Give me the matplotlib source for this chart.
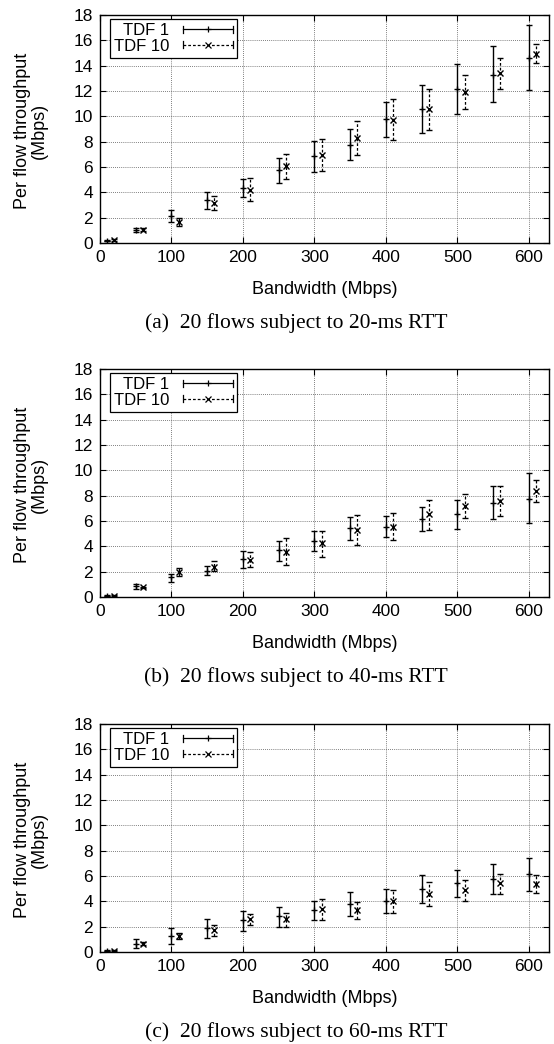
import matplotlib
matplotlib.use('Agg')
import matplotlib.pyplot as plt
from matplotlib.legend_handler import HandlerBase
from matplotlib.lines import Line2D
import numpy as np

plt.rcParams['font.family'] = ['Liberation Sans', 'DejaVu Sans']

# Bandwidth (Mbps) for each series; TDF 10 is shifted right by 10 so bars don't overlap
bw_tdf1 = [10, 50, 100, 150, 200, 250, 300, 350, 400, 450, 500, 550, 600]
bw_tdf10 = [20, 60, 110, 160, 210, 260, 310, 360, 410, 460, 510, 560, 610]

# (a) 20-ms RTT
a_tdf1_mean = [0.2, 1.05, 2.1, 3.4, 4.33, 5.73, 6.88, 7.75, 9.8, 10.59, 12.16, 13.3, 14.63]
a_tdf1_low = [0.15, 0.9, 1.68, 2.7, 3.6, 4.76, 5.6, 6.52, 8.41, 8.7, 10.22, 11.11, 12.09]
a_tdf1_high = [0.25, 1.2, 2.57, 4.0, 5.07, 6.73, 8.09, 8.99, 11.17, 12.45, 14.1, 15.53, 17.18]
a_tdf10_mean = [0.25, 1.05, 1.7, 3.2, 4.2, 6.1, 6.96, 8.33, 9.72, 10.56, 11.9, 13.4, 14.92]
a_tdf10_low = [0.2, 0.95, 1.37, 2.57, 3.28, 5.07, 5.65, 6.96, 8.14, 8.93, 10.56, 12.14, 14.19]
a_tdf10_high = [0.3, 1.15, 1.97, 3.73, 5.12, 7.04, 8.2, 9.64, 11.35, 12.14, 13.24, 14.58, 15.69]

# (b) 40-ms RTT
b_tdf1_mean = [0.1, 0.84, 1.55, 2.07, 2.99, 3.67, 4.38, 5.41, 5.56, 6.14, 6.54, 7.45, 7.77]
b_tdf1_low = [0.05, 0.63, 1.15, 1.73, 2.26, 2.86, 3.65, 4.49, 4.75, 5.22, 5.33, 6.12, 5.8]
b_tdf1_high = [0.15, 1.0, 1.81, 2.41, 3.65, 4.38, 5.17, 6.3, 6.38, 7.09, 7.69, 8.74, 9.79]
b_tdf10_mean = [0.1, 0.75, 1.94, 2.34, 2.91, 3.52, 4.23, 5.3, 5.56, 6.51, 7.19, 7.61, 8.37]
b_tdf10_low = [0.05, 0.7, 1.63, 2.07, 2.34, 2.52, 3.18, 4.12, 4.46, 5.28, 6.22, 6.43, 7.48]
b_tdf10_high = [0.15, 0.8, 2.26, 2.86, 3.52, 4.62, 5.22, 6.48, 6.59, 7.66, 8.14, 8.77, 9.27]

# (c) 60-ms RTT
c_tdf1_mean = [0.1, 0.66, 1.26, 1.92, 2.5, 2.82, 3.29, 3.82, 4.0, 4.95, 5.45, 5.79, 6.13]
c_tdf1_low = [0.05, 0.32, 0.6, 1.1, 1.68, 2.0, 2.53, 2.87, 3.05, 3.9, 4.37, 4.55, 4.82]
c_tdf1_high = [0.15, 1.05, 1.92, 2.63, 3.26, 3.55, 4.05, 4.76, 4.95, 6.1, 6.47, 6.92, 7.42]
c_tdf10_mean = [0.1, 0.66, 1.26, 1.74, 2.58, 2.58, 3.37, 3.29, 4.03, 4.6, 4.87, 5.42, 5.39]
c_tdf10_low = [0.05, 0.55, 1.0, 1.26, 2.1, 1.95, 2.55, 2.58, 3.1, 3.63, 4.03, 4.55, 4.68]
c_tdf10_high = [0.15, 0.8, 1.53, 2.1, 3.0, 3.05, 4.16, 3.95, 4.89, 5.53, 5.68, 6.16, 6.08]

captions = ['(a)  20 flows subject to 20-ms RTT',
            '(b)  20 flows subject to 40-ms RTT',
            '(c)  20 flows subject to 60-ms RTT']
series_labels = ['TDF 1', 'TDF 10']
x_ticks = [0, 100, 200, 300, 400, 500, 600]
y_ticks = [0, 2, 4, 6, 8, 10, 12, 14, 16, 18]

DASH = (0, (2.2, 1.6))


class ErrorbarKeyHandler(HandlerBase):
    # gnuplot-like key sample: horizontal bar with end ticks and a marker in the middle
    def __init__(self, marker, ls):
        super().__init__()
        self.marker = marker
        self.ls = ls

    def create_artists(self, legend, orig_handle, xdescent, ydescent,
                       width, height, fontsize, trans):
        yc = height / 2 - ydescent
        x0, x1 = -xdescent, width - xdescent
        bar = Line2D([x0, x1], [yc, yc], color='black', lw=0.9, linestyle=self.ls, transform=trans)
        cap0 = Line2D([x0, x0], [yc - 2.5, yc + 2.5], color='black', lw=0.9, transform=trans)
        cap1 = Line2D([x1, x1], [yc - 2.5, yc + 2.5], color='black', lw=0.9, transform=trans)
        mid = Line2D([(x0 + x1) / 2], [yc], marker=self.marker, color='black',
                     markersize=4, mew=0.9, linestyle='none', transform=trans)
        return [bar, cap0, cap1, mid]


def draw_panel(ax, vals1, vals10, caption):
    mean1, low1, high1 = [np.array(v) for v in vals1]
    mean10, low10, high10 = [np.array(v) for v in vals10]

    ax.errorbar(bw_tdf1, mean1, yerr=[mean1 - low1, high1 - mean1], fmt='+',
                color='black', markersize=4.5, mew=1.0, elinewidth=1.0,
                capsize=2.4, capthick=1.0, zorder=3)
    eb = ax.errorbar(bw_tdf10, mean10, yerr=[mean10 - low10, high10 - mean10], fmt='x',
                     color='black', markersize=4, mew=1.0, elinewidth=0.9,
                     capsize=2.4, capthick=0.9, zorder=3)
    eb[2][0].set_linestyle(DASH)

    ax.set_xlim(0, 628)
    ax.set_ylim(0, 18)
    ax.set_xticks(x_ticks)
    ax.set_yticks(y_ticks)
    ax.grid(True, color='#555555', linestyle=(0, (1, 1.5)), linewidth=0.6)
    ax.set_axisbelow(True)
    ax.tick_params(direction='in', top=True, right=True, length=4, width=0.8,
                   labelsize=12.5, pad=5)
    for s in ax.spines.values():
        s.set_linewidth(1.0)

    ax.set_xlabel('Bandwidth (Mbps)', fontsize=13)
    ax.xaxis.set_label_coords(0.5, -0.168)
    ax.set_ylabel('Per flow throughput\n(Mbps)', fontsize=13, linespacing=0.95)
    ax.yaxis.set_label_coords(-0.117, 0.49)

    h1 = Line2D([], [])
    h10 = Line2D([], [])
    leg = ax.legend([h1, h10], series_labels, loc='upper left', markerfirst=False,
                    bbox_to_anchor=(0.022, 0.982), borderaxespad=0,
                    handler_map={h1: ErrorbarKeyHandler('+', '-'),
                                 h10: ErrorbarKeyHandler('x', DASH)},
                    fontsize=12, handlelength=3.0, handletextpad=0.8,
                    borderpad=0.25, labelspacing=0.02,
                    frameon=True, fancybox=False, edgecolor='black', framealpha=1)
    leg.get_frame().set_linewidth(0.9)
    for t in leg.get_texts():
        t.set_ha('right')

    ax.text(0.4365, -0.352, caption, transform=ax.transAxes, ha='center', va='center',
            fontsize=15.5, family=['Liberation Serif', 'DejaVu Serif'])


fig = plt.figure(figsize=(5.54, 10.44), dpi=100)

panel_bottoms = [0.7672, 0.4282, 0.0881]
panel_data = [
    ((a_tdf1_mean, a_tdf1_low, a_tdf1_high), (a_tdf10_mean, a_tdf10_low, a_tdf10_high)),
    ((b_tdf1_mean, b_tdf1_low, b_tdf1_high), (b_tdf10_mean, b_tdf10_low, b_tdf10_high)),
    ((c_tdf1_mean, c_tdf1_low, c_tdf1_high), (c_tdf10_mean, c_tdf10_low, c_tdf10_high)),
]

for bottom, (v1, v10), cap in zip(panel_bottoms, panel_data, captions):
    ax = fig.add_axes([0.1805, bottom, 0.8105, 0.2184])
    draw_panel(ax, v1, v10, cap)

fig.savefig('out.png', dpi=100)
